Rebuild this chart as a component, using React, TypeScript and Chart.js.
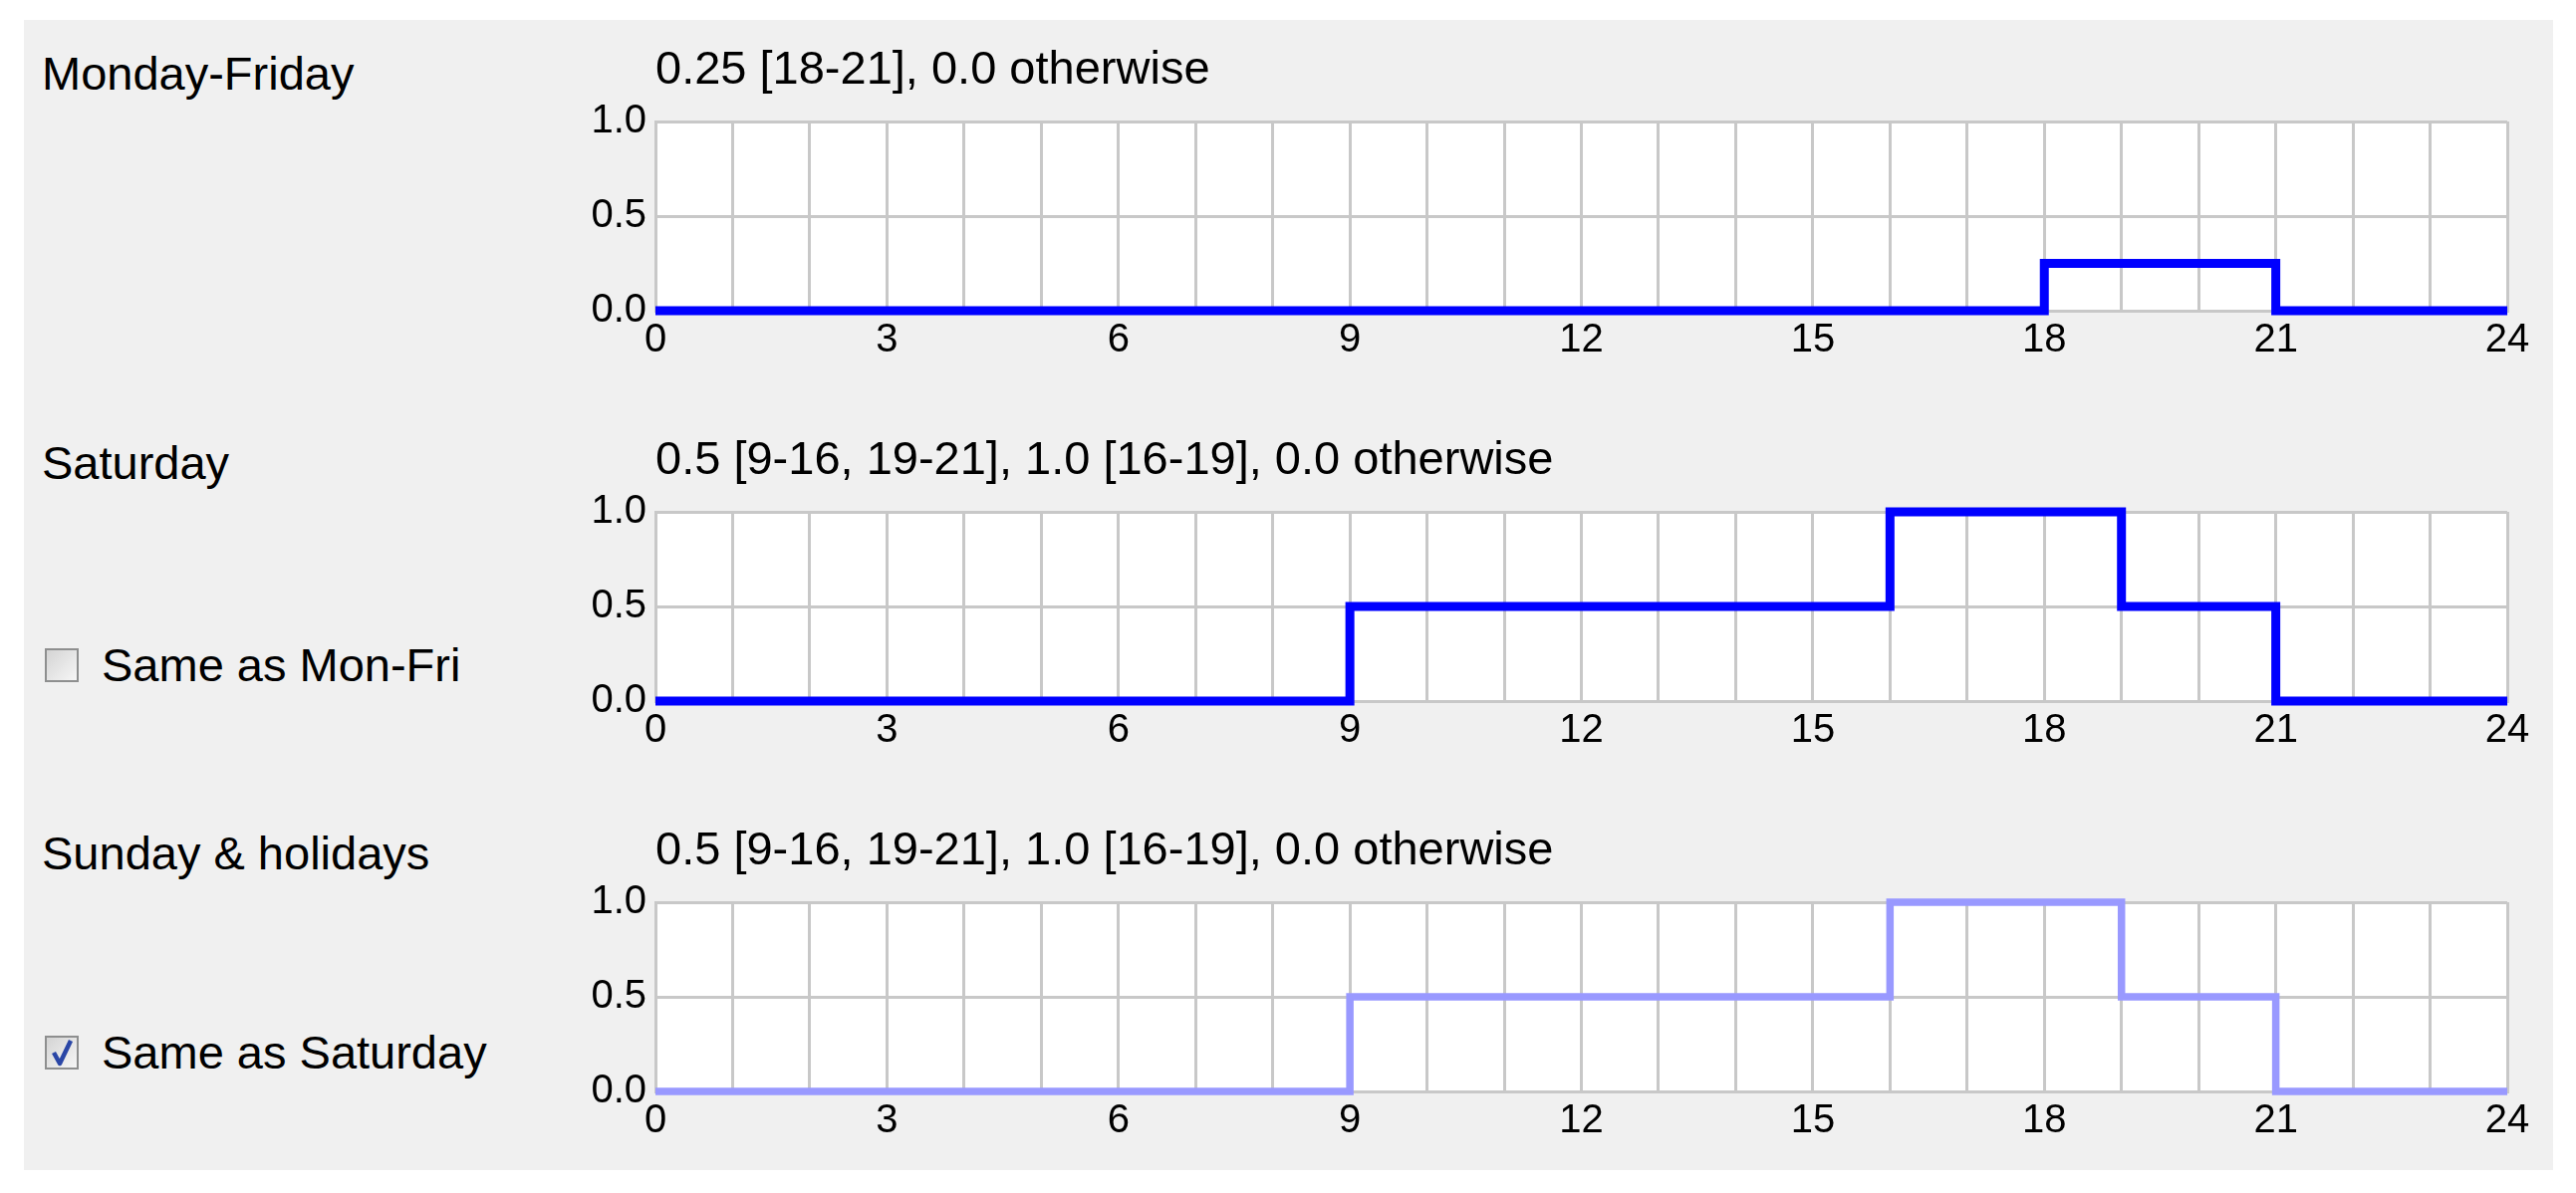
import React, { useEffect, useRef } from "react";
import { Chart, registerables } from "chart.js";

Chart.register(...registerables);

// ---- data ----
const DAY_LABELS = ["Monday-Friday", "Saturday", "Sunday & holidays"];
const CHECKBOX_LABELS = ["", "Same as Mon-Fri", "Same as Saturday"];
const CHECKBOX_CHECKED = [false, false, true];
const TITLES = [
  "0.25 [18-21], 0.0 otherwise",
  "0.5 [9-16, 19-21], 1.0 [16-19], 0.0 otherwise",
  "0.5 [9-16, 19-21], 1.0 [16-19], 0.0 otherwise",
];
const HOURS_MONFRI = [0, 18, 21, 24];
const VALUES_MONFRI = [0, 0.25, 0, 0];
const HOURS_SATURDAY = [0, 9, 16, 19, 21, 24];
const VALUES_SATURDAY = [0, 0.5, 1.0, 0.5, 0, 0];
const HOURS_SUNDAY = [0, 9, 16, 19, 21, 24];
const VALUES_SUNDAY = [0, 0.5, 1.0, 0.5, 0, 0];
const X_LABEL_HOURS = [0, 3, 6, 9, 12, 15, 18, 21, 24];
const Y_TICKS = [0, 0.5, 1.0];
const LINE_COLORS = ["#0000ff", "#0000ff", "#9999ff"];

const FONT = "'Liberation Sans', Arial, sans-serif";
const TEXT_SIZE = 47;
const PLOT_LEFT = 658;
const PLOT_RIGHT = 2517;
const PLOT_HEIGHT = 190;
const PLOT_TOPS = [122, 514, 906];
const CANVAS_LEFT = 520;
const CANVAS_WIDTH = 2566 - CANVAS_LEFT;
const TITLE_BLOCK = 100;
const TITLE_GAP = 25;
const XAXIS_H = 60;

type ChartProps = {
  hours: number[];
  values: number[];
  color: string;
  lineWidth: number;
  title: string;
  plotTop: number;
};

function StepChart({ hours, values, color, lineWidth, title, plotTop }: ChartProps) {
  const ref = useRef<HTMLCanvasElement | null>(null);
  useEffect(() => {
    if (!ref.current) return;
    const pts = hours.map((h, i) => ({ x: h, y: values[i] }));
    const chart = new Chart(ref.current, {
      type: "line",
      data: {
        datasets: [
          {
            data: pts,
            borderColor: color,
            borderWidth: lineWidth,
            stepped: "before",
            pointRadius: 0,
            fill: false,
            clip: false as any,
            borderCapStyle: "butt",
            borderJoinStyle: "miter",
          },
        ],
      },
      options: {
        animation: false,
        responsive: false,
        maintainAspectRatio: false,
        layout: { padding: { left: 0, right: CANVAS_LEFT + CANVAS_WIDTH - PLOT_RIGHT, top: 0, bottom: 0 } },
        plugins: {
          legend: { display: false },
          tooltip: { enabled: false },
          title: {
            display: true,
            text: title,
            align: "start",
            fullSize: false,
            color: "#000",
            font: { family: FONT, size: TEXT_SIZE, weight: "normal", lineHeight: "52px" },
            padding: { top: TITLE_BLOCK - 52 - TITLE_GAP, bottom: TITLE_GAP },
          },
        },
        scales: {
          x: {
            type: "linear",
            min: 0,
            max: 24,
            afterFit: (s: any) => {
              s.height = XAXIS_H;
            },
            afterBuildTicks: (s: any) => {
              const t = [];
              for (let h = 0; h <= 24; h++) t.push({ value: h });
              s.ticks = t;
            },
            ticks: {
              autoSkip: false,
              maxRotation: 0,
              padding: 6,
              color: "#000",
              font: { family: FONT, size: 40 },
              callback: (v: any) => (X_LABEL_HOURS.includes(Number(v)) ? String(v) : ""),
            },
            grid: { color: "#c8c8c8", lineWidth: 3, drawTicks: false },
            border: { color: "#c8c8c8", width: 3 },
          },
          y: {
            type: "linear",
            min: 0,
            max: 1,
            afterFit: (s: any) => {
              s.width = PLOT_LEFT - CANVAS_LEFT;
            },
            afterBuildTicks: (s: any) => {
              s.ticks = Y_TICKS.map((v) => ({ value: v }));
            },
            ticks: {
              padding: 9,
              color: "#000",
              font: { family: FONT, size: 40 },
              callback: (v: any) => Number(v).toFixed(1),
            },
            grid: { color: "#c8c8c8", lineWidth: 3, drawTicks: false },
            border: { color: "#c8c8c8", width: 3 },
          },
        },
      },
      plugins: [
        {
          id: "plotBg",
          beforeDraw: (c: any) => {
            const { ctx, chartArea } = c;
            ctx.save();
            ctx.fillStyle = "#ffffff";
            ctx.fillRect(chartArea.left, chartArea.top, chartArea.right - chartArea.left, chartArea.bottom - chartArea.top);
            ctx.restore();
          },
        },
      ],
    });
    return () => chart.destroy();
  }, [hours, values, color, lineWidth, title]);

  const h = TITLE_BLOCK + PLOT_HEIGHT + XAXIS_H;
  return (
    <canvas
      ref={ref}
      width={CANVAS_WIDTH}
      height={h}
      style={{ position: "absolute", left: CANVAS_LEFT, top: plotTop - TITLE_BLOCK, width: CANVAS_WIDTH, height: h }}
    />
  );
}

function Checkbox({ checked, top }: { checked: boolean; top: number }) {
  return (
    <div
      style={{
        position: "absolute",
        left: 45,
        top,
        width: 30,
        height: 30,
        border: "2px solid #8e8f8f",
        background: "linear-gradient(135deg, #d4d4d4 0%, #f6f6f6 100%)",
        boxSizing: "content-box",
      }}
    >
      {checked && (
        <svg width="30" height="30" viewBox="0 0 30 30" style={{ position: "absolute", left: 0, top: 0 }}>
          <path d="M7 15 L13 26 L24 3" stroke="#2a46a6" strokeWidth="4.5" fill="none" strokeLinejoin="round" />
        </svg>
      )}
    </div>
  );
}

export default function App() {
  useEffect(() => {
    document.body.style.margin = "0";
    document.body.style.overflow = "hidden";
  }, []);
  const labelStyle = (top: number, left: number): React.CSSProperties => ({
    position: "absolute",
    left,
    top,
    fontFamily: FONT,
    fontSize: TEXT_SIZE,
    lineHeight: "52px",
    color: "#000",
    whiteSpace: "nowrap",
  });
  const labelCenters = [74, 465, 857];
  const checkCenters = [0, 668, 1057];
  const hoursList = [HOURS_MONFRI, HOURS_SATURDAY, HOURS_SUNDAY];
  const valuesList = [VALUES_MONFRI, VALUES_SATURDAY, VALUES_SUNDAY];
  const widths = [9, 9, 7.5];
  return (
    <div style={{ position: "absolute", left: 0, top: 0, width: 2586, height: 1198, background: "#ffffff", overflow: "hidden" }}>
      <div style={{ position: "absolute", left: 24, top: 20, width: 2563 - 24, height: 1175 - 20, background: "#f0f0f0" }} />
      {DAY_LABELS.map((t, i) => (
        <div key={"l" + i} style={labelStyle(labelCenters[i] - 26, 42)}>
          {t}
        </div>
      ))}
      {CHECKBOX_LABELS.map((t, i) =>
        t ? (
          <React.Fragment key={"c" + i}>
            <Checkbox checked={CHECKBOX_CHECKED[i]} top={checkCenters[i] - 17} />
            <div style={labelStyle(checkCenters[i] - 26, 102)}>{t}</div>
          </React.Fragment>
        ) : null
      )}
      {TITLES.map((t, i) => (
        <StepChart
          key={"ch" + i}
          hours={hoursList[i]}
          values={valuesList[i]}
          color={LINE_COLORS[i]}
          lineWidth={widths[i]}
          title={t}
          plotTop={PLOT_TOPS[i]}
        />
      ))}
    </div>
  );
}
